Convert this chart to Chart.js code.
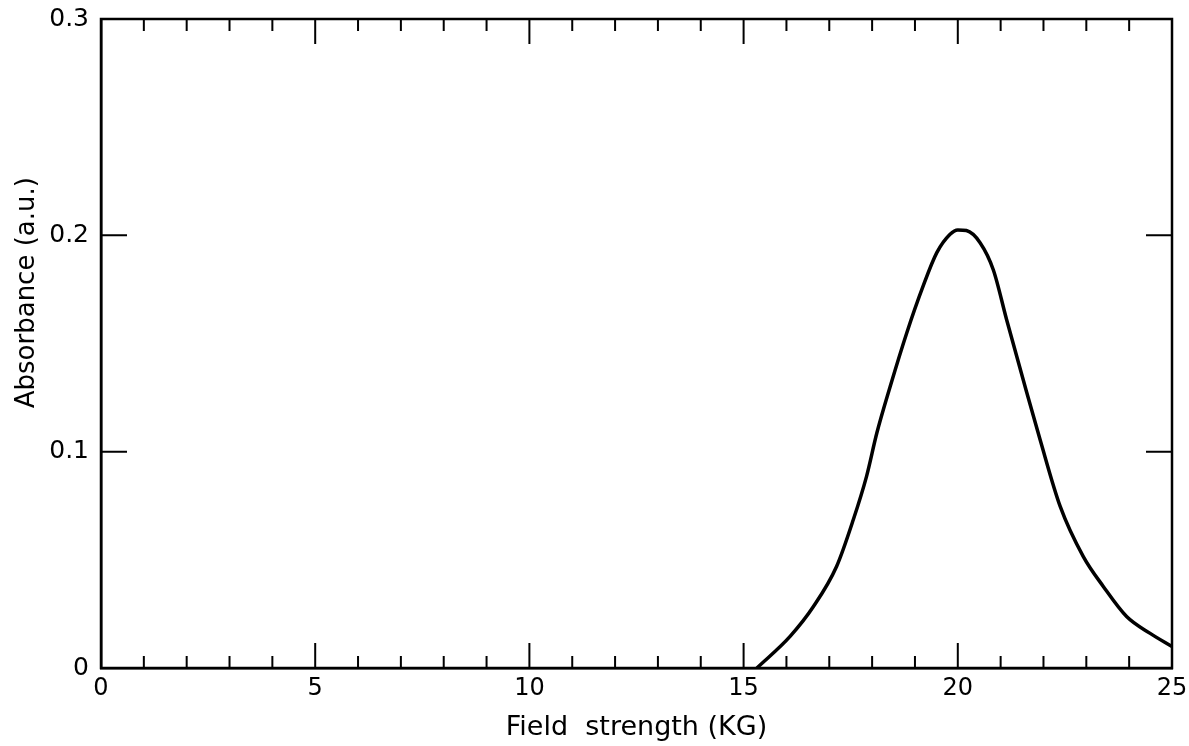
<!DOCTYPE html>
<html>
<head>
<meta charset="utf-8">
<script src="https://cdn.jsdelivr.net/npm/chart.js@4.4.1/dist/chart.umd.min.js"></script>
<style>
  html, body { margin: 0; padding: 0; background: #fff; }
  #wrap { width: 1189px; height: 746px; }
</style>
</head>
<body>
<div id="wrap"><canvas id="absChart" width="1189" height="746"></canvas></div>
<script>
// ========= DATA =================== //
let fieldKG = [15.31, 16.08, 16.63, 17.17, 17.56, 17.87, 18.11, 18.42, 18.81, 19.19, 19.51, 19.82, 20.0, 20.2, 20.52, 20.83, 21.14, 21.53, 21.92, 22.39, 22.93, 23.4, 23.94, 24.49, 25.0];
let absorbance = [0.0, 0.0145, 0.0284, 0.0469, 0.0685, 0.0886, 0.1086, 0.13, 0.155, 0.1765, 0.192, 0.2005, 0.2025, 0.2022, 0.1966, 0.184, 0.161, 0.133, 0.1056, 0.0747, 0.0515, 0.0376, 0.0238, 0.016, 0.0099];
let xTicks = [0, 5, 10, 15, 20, 25];
let yTicks = [0, 0.1, 0.2, 0.3];
let yTitle = "Absorbance (a.u.)";

let points = fieldKG.map((x, i) => ({ x: x, y: absorbance[i] }));

let fontFamily = "'DejaVu Sans', sans-serif";

// ========= FRAME + INWARD TICKS + Y TITLE ========= //
let framePlugin = {
  id: "frame",
  afterDraw(chart) {
    let ctx = chart.ctx;
    let a = chart.chartArea;
    let xs = chart.scales.x;
    let ys = chart.scales.y;
    ctx.save();
    ctx.strokeStyle = "#000";
    ctx.lineWidth = 2.5;
    ctx.strokeRect(a.left, a.top, a.right - a.left, a.bottom - a.top);
    ctx.lineWidth = 2;
    ctx.beginPath();
    for (let v = 1; v < 25; v++) {
      let px = xs.getPixelForValue(v);
      let len = xTicks.includes(v) ? 25 : 12;
      ctx.moveTo(px, a.bottom);
      ctx.lineTo(px, a.bottom - len);
      ctx.moveTo(px, a.top);
      ctx.lineTo(px, a.top + len);
    }
    yTicks.slice(1, -1).forEach((v) => {
      let py = ys.getPixelForValue(v);
      ctx.moveTo(a.left, py);
      ctx.lineTo(a.left + 26, py);
      ctx.moveTo(a.right, py);
      ctx.lineTo(a.right - 26, py);
    });
    ctx.stroke();

    // y axis title sits a bit above the middle in the original
    ctx.translate(27, ys.getPixelForValue(0.1735));
    ctx.rotate(-Math.PI / 2);
    ctx.fillStyle = "#000";
    ctx.font = "26px " + fontFamily;
    ctx.textAlign = "center";
    ctx.textBaseline = "middle";
    ctx.fillText(yTitle, 0, 0);
    ctx.restore();
  },
};

// ========= CHART ========= //
let absChart = new Chart(document.getElementById("absChart").getContext("2d"), {
  type: "scatter",
  data: {
    datasets: [
      {
        data: points,
        showLine: true,
        borderColor: "#000",
        borderWidth: 3.5,
        pointRadius: 0,
        cubicInterpolationMode: "monotone",
        fill: false,
      },
    ],
  },
  options: {
    responsive: false,
    animation: false,
    layout: { padding: { top: 19, right: 17, left: 0, bottom: 0 } },
    plugins: {
      legend: { display: false },
      tooltip: { enabled: false },
    },
    scales: {
      x: {
        type: "linear",
        min: 0,
        max: 25,
        afterFit: (s) => {
          s.height = 78;
          s.paddingLeft = 0;
          s.paddingRight = 0;
        },
        afterBuildTicks: (s) => { s.ticks = xTicks.map((v) => ({ value: v })); },
        grid: { display: false, drawTicks: false },
        border: { display: true, color: "#000", width: 2.5 },
        ticks: {
          color: "#000",
          font: { family: fontFamily, size: 24 },
          padding: 6,
          maxRotation: 0,
        },
        title: {
          display: true,
          text: "Field  strength (KG)",
          color: "#000",
          font: { family: fontFamily, size: 27 },
          padding: { top: 0, bottom: 2 },
        },
      },
      y: {
        type: "linear",
        min: 0,
        max: 0.3,
        afterFit: (s) => {
          s.width = 101;
          s.paddingTop = 0;
          s.paddingBottom = 0;
        },
        afterBuildTicks: (s) => { s.ticks = yTicks.map((v) => ({ value: v })); },
        grid: { display: false, drawTicks: false },
        border: { display: true, color: "#000", width: 2.5 },
        ticks: {
          color: "#000",
          font: { family: fontFamily, size: 25 },
          padding: 12,
          callback: (v) => (v === 0 ? "0" : v.toFixed(1)),
        },
        title: { display: false },
      },
    },
  },
  plugins: [framePlugin],
});
</script>
</body>
</html>
